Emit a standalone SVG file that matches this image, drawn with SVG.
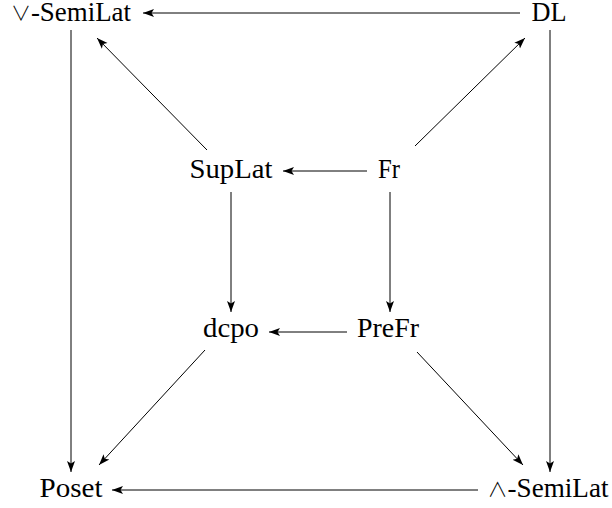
<svg xmlns="http://www.w3.org/2000/svg" width="612" height="508" viewBox="0 0 612 508">
<style>
text{font-family:"Liberation Serif","DejaVu Serif",serif;font-size:27px;fill:#000;text-anchor:middle}
.op{font-family:"Noto Sans CJK JP","DejaVu Sans",sans-serif;font-weight:300;font-size:20px}
.e{stroke:#000;stroke-width:1;fill:none;marker-end:url(#ah)}
</style>
<defs>
<marker id="ah" markerUnits="userSpaceOnUse" markerWidth="12" markerHeight="10" viewBox="0 0 12 10" refX="11" refY="5" orient="auto">
<path d="M0,1 L11,5 L0,9 L2.5,5 Z" fill="#000"/>
</marker>
</defs>
<rect width="612" height="508" fill="#fff"/>
<g id="connectors">
<line class="e" x1="520" y1="13" x2="143" y2="13"/>
<line class="e" x1="71" y1="30" x2="71" y2="472"/>
<line class="e" x1="550" y1="30" x2="550" y2="472"/>
<line class="e" x1="207" y1="150" x2="97" y2="38"/>
<line class="e" x1="415" y1="146" x2="525" y2="38"/>
<line class="e" x1="367" y1="171" x2="283" y2="171"/>
<line class="e" x1="231" y1="192" x2="231" y2="312"/>
<line class="e" x1="390" y1="192" x2="390" y2="312"/>
<line class="e" x1="347" y1="332" x2="269" y2="332"/>
<line class="e" x1="205" y1="350" x2="99" y2="465"/>
<line class="e" x1="417" y1="352" x2="523" y2="465"/>
<line class="e" x1="478" y1="490" x2="112" y2="490"/>
</g>
<g id="vsemilat"><text x="71" y="21" textLength="120" lengthAdjust="spacingAndGlyphs"><tspan class="op">∨</tspan>-SemiLat</text></g>
<g id="dl"><text x="549" y="21" textLength="35" lengthAdjust="spacingAndGlyphs">DL</text></g>
<g id="suplat"><text x="231" y="178" textLength="83" lengthAdjust="spacingAndGlyphs">SupLat</text></g>
<g id="fr"><text x="389" y="178" textLength="22" lengthAdjust="spacingAndGlyphs">Fr</text></g>
<g id="dcpo"><text x="231" y="337" textLength="56" lengthAdjust="spacingAndGlyphs">dcpo</text></g>
<g id="prefr"><text x="388" y="337" textLength="62" lengthAdjust="spacingAndGlyphs">PreFr</text></g>
<g id="poset"><text x="71" y="497" textLength="63" lengthAdjust="spacingAndGlyphs">Poset</text></g>
<g id="wsemilat"><text x="548" y="497" textLength="121" lengthAdjust="spacingAndGlyphs"><tspan class="op">∧</tspan>-SemiLat</text></g>
</svg>
